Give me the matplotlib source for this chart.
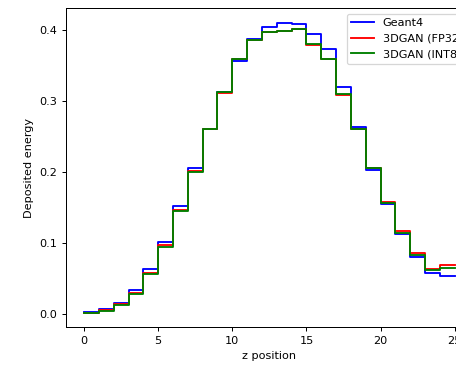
import numpy as np
import matplotlib
matplotlib.use('Agg')
import matplotlib.pyplot as plt

# energy per z layer
z_edges = np.arange(26)
geant4 = [0.003, 0.007, 0.016, 0.0345, 0.063, 0.102, 0.153, 0.2057, 0.261, 0.313,
          0.356, 0.387, 0.405, 0.4107, 0.408, 0.394, 0.373, 0.3197, 0.263, 0.2033,
          0.1547, 0.1127, 0.0806, 0.058, 0.0543]
gan_fp32 = [0.002, 0.006, 0.014, 0.030, 0.0585, 0.097, 0.147, 0.201, 0.261, 0.312,
            0.359, 0.386, 0.397, 0.3985, 0.401, 0.3786, 0.359, 0.308, 0.261, 0.2065,
            0.158, 0.117, 0.0868, 0.064, 0.0689]
gan_int8 = [0.002, 0.005, 0.013, 0.029, 0.0566, 0.095, 0.146, 0.200, 0.261, 0.313,
            0.360, 0.386, 0.3975, 0.3994, 0.402, 0.380, 0.360, 0.310, 0.261, 0.2056,
            0.1566, 0.115, 0.084, 0.0618, 0.0656]
labels = ['Geant4', '3DGAN (FP32)', '3DGAN (INT8)']
colors = ['blue', 'red', 'green']
yticks = [0.0, 0.1, 0.2, 0.3, 0.4]

plt.rcParams['font.size'] = 9
dpi = 90
fig = plt.figure(figsize=(456 / dpi, 365 / dpi), dpi=dpi)
# axes runs past the right edge, like the cropped original
ax = fig.add_axes([65.5 / 456, 1 - 327.3 / 365, (473.3 - 65.5) / 456, (327.3 - 8) / 365])

for vals, lab, col in zip([geant4, gan_fp32, gan_int8], labels, colors):
    y = list(vals) + [vals[-1]]
    ax.step(z_edges, y, where='post', color=col, label=lab, lw=1.5)

ax.set_xlabel('z position')
ax.set_ylabel('Deposited energy')
ax.set_xticks([0, 5, 10, 15, 20, 25])
ax.set_yticks(yticks)
ax.legend(loc='upper right')

fig.savefig('out.png', dpi=dpi)
